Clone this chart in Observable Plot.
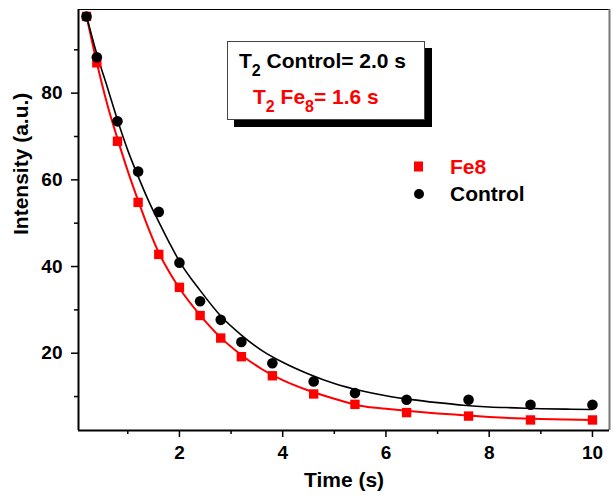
<!DOCTYPE html>
<html>
<head>
<meta charset="utf-8">
<script src="https://cdn.jsdelivr.net/npm/d3@7"></script>
<script src="https://cdn.jsdelivr.net/npm/@observablehq/plot@0.6"></script>
<style>
  html, body { margin: 0; padding: 0; background: #fff; }
  #wrap { position: relative; width: 613px; height: 501px; font-family: "Liberation Sans", Arial, sans-serif; font-weight: bold; }
  #wrap svg { display: block; }
  .box { position: absolute; left: 227px; top: 41px; width: 196px; height: 77px; border: 1px solid #444; background: #fff; box-shadow: 7px 7px 0 #000; }
  .txt { position: absolute; font-size: 21px; line-height: 21px; white-space: nowrap; }
  .sub { font-size: 16px; vertical-align: -8px; }
  .sym { position: absolute; }
</style>
</head>
<body>
<div id="wrap"></div>
<script>
const times = [0.2, 0.4, 0.8, 1.2, 1.6, 2.0, 2.4, 2.8, 3.2, 3.8, 4.6, 5.4, 6.4, 7.6, 8.8, 10];
const controlValues = [97.7, 88.3, 73.5, 61.9, 52.6, 40.9, 32.0, 27.7, 22.6, 17.7, 13.5, 10.8, 9.25, 9.25, 8.1, 8.1];
const fe8Values = [97.7, 87.0, 68.9, 54.8, 42.8, 35.2, 28.7, 23.5, 19.2, 14.8, 10.6, 8.2, 6.3, 5.5, 4.6, 4.6];

// Fitted curves
const fitTimes = [0.2, 0.4, 0.6, 0.8, 1.0, 1.2, 1.4, 1.6, 1.8, 2.0, 2.4, 2.8, 3.2, 3.6, 4.0, 4.5, 5.0, 5.5, 6.0, 6.5, 7.0, 7.5, 8.0, 8.5, 9.0, 9.5, 10.0];
const controlFit = [97.8, 89.0, 81.5, 73.8, 66.8, 60.8, 55.2, 50.3, 45.6, 41.2, 34.5, 28.6, 24.2, 20.6, 17.9, 15.2, 13.0, 11.4, 10.2, 9.3, 8.6, 8.0, 7.6, 7.4, 7.2, 7.1, 7.0];
const fe8Fit = [97.8, 87.0, 77.5, 69.5, 62.0, 55.2, 48.8, 43.2, 38.8, 35.0, 28.8, 23.6, 19.6, 16.3, 13.8, 11.4, 9.5, 7.9, 7.2, 6.6, 6.1, 5.7, 5.3, 5.0, 4.8, 4.7, 4.6];

// Axis config
const xDomain = [0.045, 10.33];
const yDomain = [2.17, 99.3];
const xMajor = [2, 4, 6, 8, 10];
const xMinor = [1, 3, 5, 7, 9];
const yMajor = [20, 40, 60, 80];
const yMinor = [10, 30, 50, 70, 90];
const xTitle = "Time (s)";
const yTitle = "Intensity (a.u.)";

const controlPts = times.map((t, i) => ({t, v: controlValues[i]}));
const fe8Pts = times.map((t, i) => ({t, v: fe8Values[i]}));
const controlLine = fitTimes.map((t, i) => ({t, v: controlFit[i]}));
const fe8Line = fitTimes.map((t, i) => ({t, v: fe8Fit[i]}));

const chart = Plot.plot({
  width: 613,
  height: 501,
  marginLeft: 78,
  marginRight: 4,
  marginTop: 9,
  marginBottom: 71,
  style: {fontFamily: "'Liberation Sans', Arial, sans-serif", fontWeight: "bold", fontSize: "19px", color: "#000", background: "transparent", overflow: "visible"},
  x: {domain: xDomain},
  y: {domain: yDomain},
  marks: [
    Plot.axisX({ticks: xMinor, tickSize: 4, text: null, label: null, strokeWidth: 1.5}),
    Plot.axisX({ticks: xMajor, tickSize: 7, tickPadding: 8, label: null, strokeWidth: 1.5, fontSize: 19}),
    Plot.axisY({ticks: yMinor, tickSize: 4, text: null, label: null, strokeWidth: 1.5}),
    Plot.axisY({ticks: yMajor, tickSize: 7, tickPadding: 9, label: null, strokeWidth: 1.5, fontSize: 19}),
    Plot.ruleY([yDomain[1]], {stroke: "#000", strokeWidth: 1}),
    Plot.ruleX([xDomain[1]], {stroke: "#777", strokeWidth: 2}),
    Plot.ruleX([xDomain[0]], {stroke: "#000", strokeWidth: 2}),
    Plot.ruleY([yDomain[0]], {stroke: "#000", strokeWidth: 2}),
    Plot.line(fe8Line, {x: "t", y: "v", stroke: "#ff0000", strokeWidth: 2, curve: "monotone-x"}),
    Plot.line(controlLine, {x: "t", y: "v", stroke: "#000", strokeWidth: 1.6, curve: "monotone-x"}),
    Plot.dot(fe8Pts, {x: "t", y: "v", symbol: "square", r: 5.3, fill: "#ff0000", stroke: "none"}),
    Plot.dot(controlPts, {x: "t", y: "v", symbol: "circle", r: 5.3, fill: "#000", stroke: "none"}),
    Plot.text([xTitle], {frameAnchor: "bottom", dy: 56, fontSize: 21, fontWeight: "bold", fill: "#000"}),
    Plot.text([yTitle], {frameAnchor: "left", rotate: -90, dx: -57, dy: 15, fontSize: 21, fontWeight: "bold", fill: "#000"})
  ]
});

const wrap = document.getElementById("wrap");
wrap.appendChild(chart);

// Annotation box and legend
wrap.insertAdjacentHTML("beforeend", `
  <div class="box"></div>
  <div class="txt" style="left:239px; top:50px; color:#000;">T<span class="sub">2</span> Control= 2.0 s</div>
  <div class="txt" style="left:253px; top:86px; color:#ff0000;">T<span class="sub">2</span> Fe<span class="sub">8</span>= 1.6 s</div>
  <svg class="sym" style="left:413px; top:161px;" width="12" height="12"><rect x="1" y="0.5" width="9" height="10" fill="#ff0000"/></svg>
  <svg class="sym" style="left:413px; top:188px;" width="12" height="12"><circle cx="6" cy="6" r="5" fill="#000"/></svg>
  <div class="txt" style="left:450px; top:156px; color:#ff0000;">Fe8</div>
  <div class="txt" style="left:450px; top:183px; color:#000;">Control</div>
`);
</script>
</body>
</html>
